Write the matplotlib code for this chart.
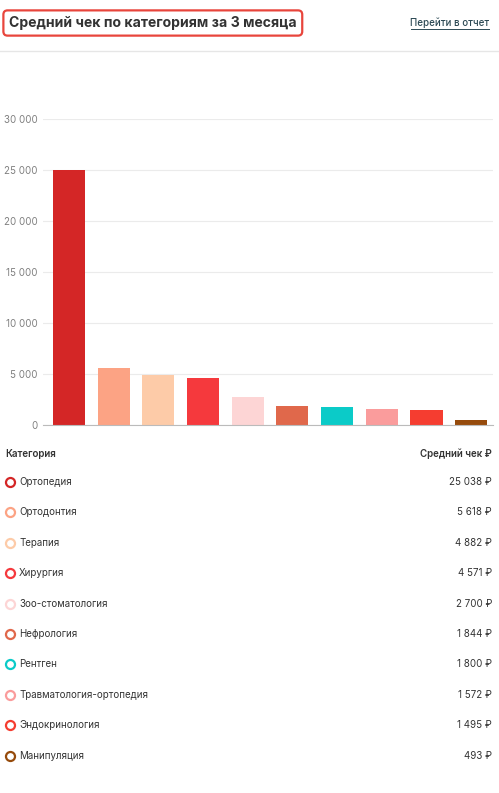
import matplotlib.pyplot as plt
from matplotlib.lines import Line2D
from matplotlib.ticker import FuncFormatter

# data
categories = ['Ортопедия', 'Ортодонтия', 'Терапия', 'Хирургия', 'Зоо-стоматология',
              'Нефрология', 'Рентген', 'Травматология-ортопедия', 'Эндокринология',
              'Манипуляция']
avg_check = [25038, 5618, 4882, 4571, 2700, 1844, 1800, 1572, 1495, 493]
colors = ['#D42626', '#FCA384', '#FDCBA8', '#F5393D', '#FDD5D5',
          '#E0684B', '#0BCBC8', '#FA9C9C', '#F53D30', '#964B0C']
y_ticks = [0, 5000, 10000, 15000, 20000, 25000, 30000]

W, H = 499, 793
plt.rcParams['font.family'] = ['Inter', 'DejaVu Sans']


def fx(px):
    return px / W


def fy(py):
    return 1 - py / H


def fmt_num(v):
    return f'{v:,}'.replace(',', '\u00a0')


fig = plt.figure(figsize=(W / 100, H / 100), dpi=100)

# header
fig.text(fx(9), fy(23), 'Средний чек по категориям за 3 месяца', fontsize=10.1,
         fontweight='bold', color='#333333', va='center', ha='left',
         bbox=dict(boxstyle='round,pad=0.4,rounding_size=0.3', fc='white',
                   ec='#E8453C', lw=1.6))
fig.text(fx(489), fy(23), 'Перейти в отчет', fontsize=7, fontweight='medium',
         color='#2D4A55', va='center', ha='right')
fig.add_artist(Line2D([fx(411), fx(489)], [fy(29), fy(29)], color='#2D4A55', lw=0.7))
fig.add_artist(Line2D([0, 1], [fy(51), fy(51)], color='#E6E6E6', lw=1))

# bar chart
ax = fig.add_axes([fx(43), fy(425), fx(493) - fx(43), fy(119) - fy(425)])
x = range(len(categories))
ax.bar(x, avg_check, width=0.72, color=colors, zorder=3)
ax.set_xlim(-0.58, len(categories) - 0.51)
ax.set_ylim(0, 30000)
ax.set_yticks(y_ticks)
ax.yaxis.set_major_formatter(FuncFormatter(lambda v, p: fmt_num(int(v))))
ax.set_xticks([])
ax.grid(axis='y', color='#EBEBEB', lw=0.8, zorder=0)
ax.tick_params(axis='y', length=0, labelsize=7, labelcolor='#808080', pad=4)
for s in ['top', 'right', 'left']:
    ax.spines[s].set_visible(False)
ax.spines['bottom'].set_color('#BBBBBB')
ax.spines['bottom'].set_zorder(4)

# table
fig.text(fx(5), fy(454), 'Категория', fontsize=7, fontweight='semibold',
         color='#333333', va='center')
fig.text(fx(492), fy(454), 'Средний чек ₽', fontsize=7, fontweight='semibold',
         color='#333333', va='center', ha='right')
for i, (cat, val, col) in enumerate(zip(categories, avg_check, colors)):
    yy = fy(482 + i * 30.4)
    fig.add_artist(Line2D([fx(10)], [yy], marker='o', markersize=6.5,
                          markerfacecolor='white', markeredgecolor=col,
                          markeredgewidth=1.6))
    fig.text(fx(19), yy, cat, fontsize=7, color='#333333', va='center')
    fig.text(fx(492), yy, fmt_num(val) + ' ₽', fontsize=7, color='#333333',
             va='center', ha='right')

fig.savefig('out.png', dpi=100)
